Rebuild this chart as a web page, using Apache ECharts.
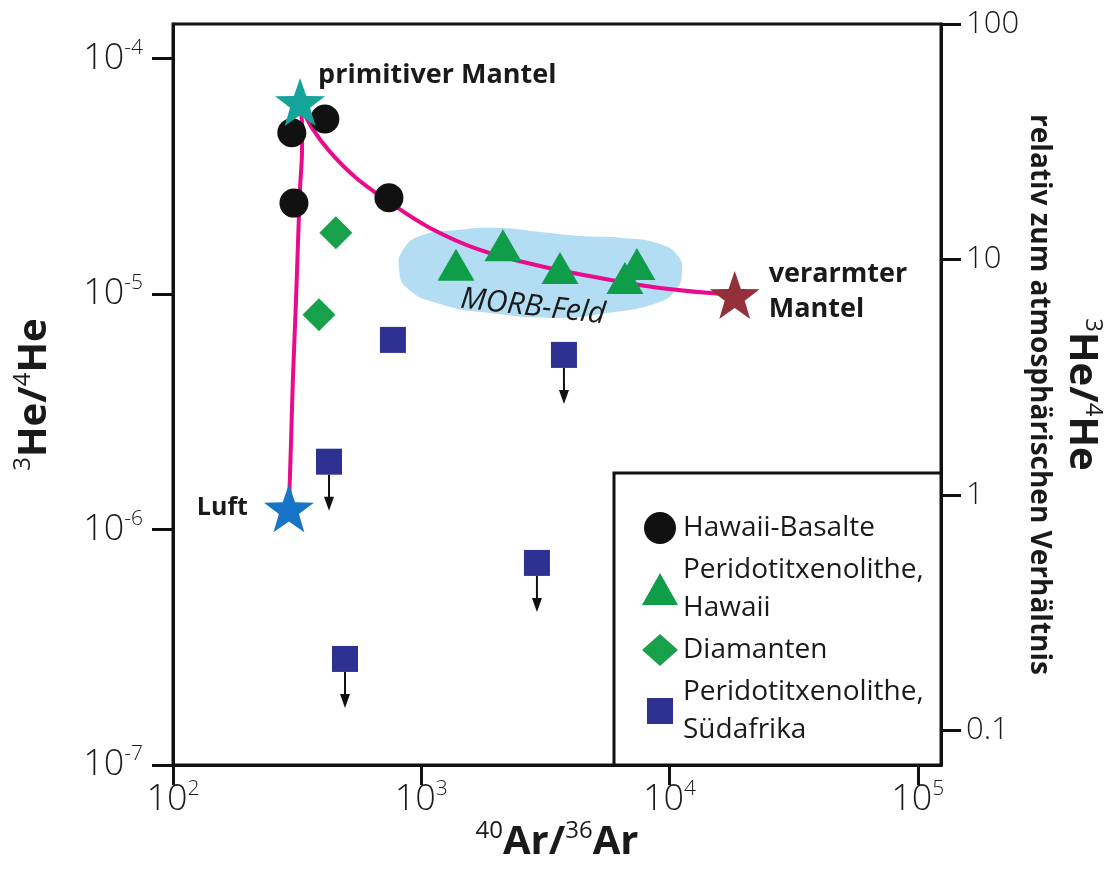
<!DOCTYPE html>
<html><head><meta charset="utf-8">
<script src="https://cdn.jsdelivr.net/npm/echarts@6/dist/echarts.min.js"></script>
<style>html,body{margin:0;padding:0;background:#fff}#c{width:1116px;height:877px}</style>
</head><body><div id="c"></div>
<script>
// ---- axes ----
const airRatio = 1.4e-6;          // right axis "1" = atmospheric 3He/4He
const xMin = 100, xMax = 1.24e5;
const yMin = 1e-7, yMax = 1.4e-4;
const xTickValues = [1e2, 1e3, 1e4, 1e5];
const xTickExps = ['2', '3', '4', '5'];
const yTickValues = [1e-7, 1e-6, 1e-5, 1e-4];
const yTickExps = ['-7', '-6', '-5', '-4'];
const rTickValues = [0.1, 1, 10, 100];
const rTickLabels = ['0.1', '1', '10', '100'];

// ---- data ----
const basaltX = [301, 409, 307, 741];
const basaltY = [4.83e-5, 5.53e-5, 2.43e-5, 2.56e-5];

const xenoHawaiiX = [1380, 2133, 3620, 7390, 6610];
const xenoHawaiiY = [1.33e-5, 1.61e-5, 1.29e-5, 1.34e-5, 1.17e-5];

const diamondX = [453, 387];
const diamondY = [1.82e-5, 8.15e-6];

const xenoSAX = [769, 3756, 425, 2924, 493];
const xenoSAY = [6.38e-6, 5.51e-6, 1.94e-6, 7.21e-7, 2.82e-7];
const xenoSAUpperLimit = [false, true, true, true, true];

const endNames = ['primitiver Mantel', 'Luft', 'verarmter\nMantel'];
const endX = [325, 293, 18300];
const endY = [6.53e-5, 1.23e-6, 9.9e-6];

const curveAirX = [293, 299, 304, 313, 319, 325, 331, 331, 325];
const curveAirY = [1.23e-6, 2.40e-6, 4.32e-6, 9.44e-6, 1.69e-5, 2.84e-5, 4.08e-5, 5.22e-5, 6.41e-5];

const curveMantleX = [325, 363, 429, 541, 741, 1084, 1723, 3007, 5244, 9148, 18300];
const curveMantleY = [6.41e-5, 5.07e-5, 4.01e-5, 3.14e-5, 2.46e-5, 1.907e-5, 1.538e-5, 1.315e-5, 1.169e-5, 1.060e-5, 9.9e-6];

const morbX = [844, 988, 1392, 2075, 3007, 4357, 6492, 9148, 10810, 11220, 10610, 8897, 5597, 3520, 1891, 1189, 876, 813];
const morbY = [1.538e-5, 1.763e-5, 1.870e-5, 1.907e-5, 1.834e-5, 1.763e-5, 1.729e-5, 1.631e-5, 1.450e-5, 1.240e-5, 1.040e-5, 9.16e-6, 8.30e-6, 7.91e-6, 8.30e-6, 9.07e-6, 1.060e-5, 1.289e-5];
const morbLabelX = 2818, morbLabelY = 8.81e-6;

const seriesNames = ['Hawaii-Basalte', 'Peridotitxenolithe,\nHawaii', 'Diamanten', 'Peridotitxenolithe,\nSüdafrika'];

// ---- helpers ----
const FONT = "'Open Sans', 'DejaVu Sans', sans-serif";
const TXT = '#1a1a1a';
const pairs = (xs, ys) => xs.map((x, i) => [x, ys[i]]);
const findIdx = (arr, v) => arr.findIndex(t => Math.abs(Math.log10(t) - Math.log10(v)) < 0.02);
const STAR = 'path://M50 0 L61.76 33.82 L97.55 34.55 L69.02 56.18 L79.39 90.45 L50 70 L20.61 90.45 L30.98 56.18 L2.45 34.55 L38.24 33.82 Z';
const ARROW = 'path://M4 0 L6 0 L6 22 L10 22 L5 36 L0 22 L4 22 Z';
const LEGEND_SQUARE = 'path://M0 0 M36 32 M5 3 L31 3 L31 29 L5 29 Z';

const tickRich = {
  b: { fontSize: 36, fontFamily: FONT, color: TXT, lineHeight: 42, fontWeight: 300 },
  s: { fontSize: 21, fontFamily: FONT, color: TXT, lineHeight: 23, verticalAlign: 'top', fontWeight: 300 }
};
const titleRich = {
  b: { fontSize: 40, fontFamily: FONT, fontWeight: 'bold', color: TXT, lineHeight: 48 },
  s: { fontSize: 24, fontFamily: FONT, color: TXT, lineHeight: 26, verticalAlign: 'top' },
  r: { fontSize: 28, fontFamily: FONT, fontWeight: 'bold', color: TXT, lineHeight: 36 }
};
const axisLineStyle = { color: '#111', width: 3 };

const chart = echarts.init(document.getElementById('c'));
chart.setOption({
  backgroundColor: '#fff',
  animation: false,
  grid: { left: 173, right: 175, top: 24, bottom: 112, show: true, borderColor: '#111', borderWidth: 3, containLabel: false, outerBoundsMode: 'none' },
  xAxis: {
    type: 'log', logBase: 10, min: xMin, max: xMax,
    axisLine: { show: true, lineStyle: axisLineStyle },
    axisTick: { show: true, inside: false, length: 20, lineStyle: axisLineStyle, customValues: xTickValues },
    axisLabel: { margin: 14, customValues: xTickValues, rich: tickRich,
      formatter: v => { const i = findIdx(xTickValues, v); return i < 0 ? '' : '{b|10}{s|' + xTickExps[i] + '}'; } },
    splitLine: { show: false }, minorTick: { show: false },
    name: '{s|40}{b|Ar/}{s|36}{b|Ar}', nameLocation: 'middle', nameGap: 54, nameMoveOverlap: false,
    nameTextStyle: { rich: titleRich }
  },
  yAxis: [{
    type: 'log', logBase: 10, min: yMin, max: yMax, position: 'left',
    axisLine: { show: true, lineStyle: axisLineStyle },
    axisTick: { show: true, inside: false, length: 21, lineStyle: axisLineStyle, customValues: yTickValues },
    axisLabel: { margin: 30, customValues: yTickValues, rich: tickRich,
      formatter: v => { const i = findIdx(yTickValues, v); return i < 0 ? '' : '{b|10}{s|' + yTickExps[i] + '}'; } },
    splitLine: { show: false },
    name: '{s|3}{b|He/}{s|4}{b|He}', nameLocation: 'middle', nameRotate: 90, nameGap: 114, nameMoveOverlap: false,
    nameTextStyle: { rich: titleRich }
  }, {
    type: 'log', logBase: 10, min: yMin / airRatio, max: yMax / airRatio, position: 'right',
    axisLine: { show: true, lineStyle: axisLineStyle },
    axisTick: { show: true, inside: false, length: 20, lineStyle: axisLineStyle, customValues: rTickValues },
    axisLabel: { margin: 25, customValues: rTickValues, fontSize: 31, fontFamily: FONT, fontWeight: 300, color: TXT,
      formatter: v => { const i = findIdx(rTickValues, v); return i < 0 ? '' : rTickLabels[i]; } },
    splitLine: { show: false },
    name: '{s|3}{b|He/}{s|4}{b|He}\n{r|relativ zum atmosphärischen Verhältnis}',
    nameLocation: 'middle', nameRotate: -90, nameGap: 80, nameMoveOverlap: false,
    nameTextStyle: { rich: titleRich }
  }],
  legend: {
    orient: 'vertical', left: 637, top: 504, itemWidth: 36, itemHeight: 32, itemGap: 4,
    selectedMode: false, z: 10,
    data: [
      { name: seriesNames[0] },
      { name: seriesNames[1] },
      { name: seriesNames[2] },
      { name: seriesNames[3], icon: LEGEND_SQUARE }
    ],
    textStyle: { fontSize: 28, lineHeight: 38, color: TXT, fontFamily: FONT, padding: [0, 0, 0, 0] }
  },
  graphic: [{
    type: 'rect', z: 5, silent: true,
    shape: { x: 614, y: 473, width: 327, height: 292 },
    style: { fill: '#fff', stroke: '#111', lineWidth: 3 }
  }],
  series: [
    {
      type: 'custom', name: 'MORB', z: 1, silent: true,
      data: [[morbLabelX, morbLabelY]],
      renderItem: (params, api) => {
        const pts = morbX.map((x, i) => api.coord([x, morbY[i]]));
        const lp = api.coord([morbLabelX, morbLabelY]);
        return { type: 'group', children: [
          { type: 'polygon', shape: { points: pts, smooth: 0.5 }, style: { fill: '#b3ddf3' } },
          { type: 'text', x: lp[0], y: lp[1], rotation: -0.11,
            style: { text: 'MORB-Feld', fill: TXT, font: 'italic 30px ' + FONT, align: 'center', verticalAlign: 'middle' } }
        ]};
      }
    },
    { type: 'line', name: 'curveAir', z: 2, data: pairs(curveAirX, curveAirY), showSymbol: false, smooth: 0.3,
      lineStyle: { color: '#ea0a8c', width: 4 }, silent: true },
    { type: 'line', name: 'curveMantle', z: 2, data: pairs(curveMantleX, curveMantleY), showSymbol: false, smooth: 0.4,
      lineStyle: { color: '#ea0a8c', width: 4 }, silent: true },
    { type: 'scatter', name: seriesNames[0], z: 3, data: pairs(basaltX, basaltY), symbol: 'circle', symbolSize: 29,
      itemStyle: { color: '#111', opacity: 1 } },
    { type: 'scatter', name: seriesNames[1], z: 3, data: pairs(xenoHawaiiX, xenoHawaiiY), symbol: 'triangle', symbolSize: [37, 32],
      itemStyle: { color: '#0f9d4a', opacity: 1 } },
    { type: 'scatter', name: seriesNames[2], z: 3, data: pairs(diamondX, diamondY), symbol: 'diamond', symbolSize: [33, 33],
      itemStyle: { color: '#19a04b', opacity: 1 } },
    { type: 'scatter', name: seriesNames[3], z: 3, data: pairs(xenoSAX, xenoSAY), symbol: 'rect', symbolSize: [26, 26],
      itemStyle: { color: '#2e3192', opacity: 1 } },
    { type: 'scatter', name: 'limits', z: 3, data: pairs(xenoSAX, xenoSAY).filter((d, i) => xenoSAUpperLimit[i]),
      symbol: ARROW, symbolSize: [10, 36], symbolOffset: [0, 31], itemStyle: { color: '#111', opacity: 1 }, silent: true },
    { type: 'scatter', name: 'Endglieder', z: 4, symbol: STAR, symbolSize: [50, 48],
      itemStyle: { opacity: 1 },
      label: { show: true, formatter: '{b}', fontFamily: FONT, fontWeight: 'bold', fontSize: 27, color: TXT, lineHeight: 35, opacity: 1 },
      data: endNames.map((n, i) => ({ name: n, value: [endX[i], endY[i]] })).map((d, i) => {
        const styles = [
          { itemStyle: { color: '#16a39a', opacity: 1 }, label: { position: 'right', distance: 0, offset: [-7, -27] } },
          { itemStyle: { color: '#1874c6', opacity: 1 }, label: { position: 'left', distance: 16, offset: [0, 0], fontSize: 25 } },
          { itemStyle: { color: '#94303a', opacity: 1 }, label: { position: 'right', distance: 9, offset: [0, -3] } }
        ];
        return Object.assign(d, styles[i]);
      })
    }
  ]
});
</script></body></html>
